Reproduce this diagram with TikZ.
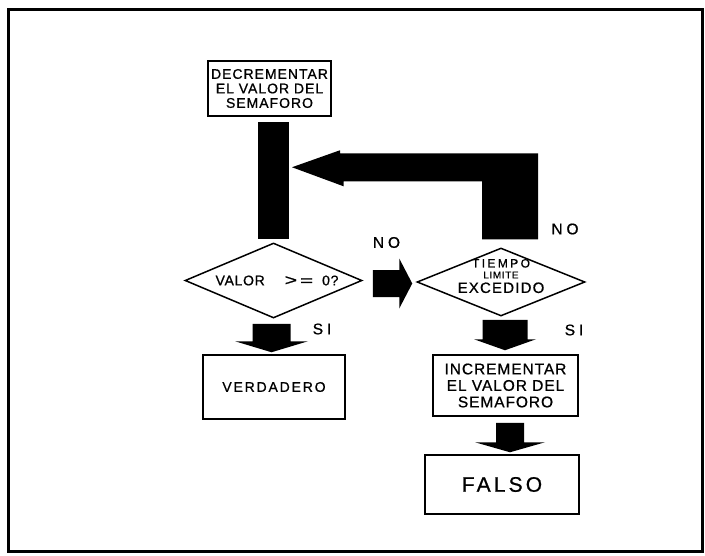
\documentclass[tikz,border=0pt]{standalone}
\usepackage{graphicx}
\usepackage{fontspec}
\setmainfont{Liberation Sans}[FakeBold=0.8]
\usetikzlibrary{shapes.geometric,calc}

% solid block arrow pointing down: #1 start of the shaft (its centre),
% #2 point whose y gives the tip, #3 half shaft width, #4 half head width, #5 head length
\newcommand{\flowdown}[5]{%
  \fill[blockfill] let \p1=#1, \p2=#2 in
    (\x1-#3,\y1) -- (\x1+#3,\y1) -- (\x1+#3,\y2+#5) -- (\x1+#4,\y2+#5)
    -- (\x1,\y2) -- (\x1-#4,\y2+#5) -- (\x1-#3,\y2+#5) -- cycle;}
% solid block arrow pointing right, same arguments
\newcommand{\flowright}[5]{%
  \fill[blockfill] let \p1=#1, \p2=#2 in
    (\x1,\y1+#3) -- (\x2-#5,\y1+#3) -- (\x2-#5,\y1+#4) -- (\x2,\y1)
    -- (\x2-#5,\y1-#4) -- (\x2-#5,\y1-#3) -- (\x1,\y1-#3) -- cycle;}

\tikzset{
  boxnode/.style={draw, line width=1.5pt, rectangle, inner sep=0pt, align=center},
  decision/.style={draw, line width=1.5pt, diamond, inner sep=-6pt, align=center},
  blockfill/.style={fill=black},
  lbl/.style={inner sep=0pt, font=\fontsize{15.5}{15.5}\selectfont\addfontfeature{LetterSpace=25}},
}

\begin{document}
\begin{tikzpicture}[x=1pt, y=-1pt]
  \useasboundingbox (0,0) rectangle (705,555);
  \draw[line width=3pt] (8,9) rectangle (702,551.5);

  % process steps and decisions
  \node[boxnode, minimum width=123pt, minimum height=55pt,
        font=\fontsize{14}{14.5}\selectfont\addfontfeature{LetterSpace=7}]
        (dec) at (269.5,88.5) {DECREMENTAR\\EL VALOR DEL\\SEMAFORO};

  \node[decision, minimum width=177pt, minimum height=75pt, aspect=2.36,
        font=\fontsize{14}{14}\selectfont\addfontfeature{LetterSpace=5}]
        (cond) at (273.5,280.5)
        {\hspace*{7pt}VALOR\hspace{20pt}\scalebox{1.5}[1.1]{>}\hspace{3pt}\scalebox{1.6}[1]{=}\hspace{9pt}0?};

  \node[decision, minimum width=168pt, minimum height=68pt, aspect=2.47,
        font=\fontsize{12}{10}\selectfont]
        (tmo) at (501,282)
        {{\fontsize{12}{11}\selectfont\addfontfeature{LetterSpace=20}TIEMPO}\\[1pt]
         {\fontsize{10}{9}\selectfont\addfontfeature{LetterSpace=6}LIMITE}\\[3pt]
         {\fontsize{15}{15}\selectfont\addfontfeature{LetterSpace=8}EXCEDIDO\rule[-12pt]{0pt}{0pt}}};

  \node[boxnode, minimum width=142pt, minimum height=64pt,
        font=\fontsize{14}{14}\selectfont\addfontfeature{LetterSpace=13}]
        (verd) at (274,387) {VERDADERO};

  \node[boxnode, minimum width=145pt, minimum height=61pt,
        font=\fontsize{15.5}{16.5}\selectfont\addfontfeature{LetterSpace=6}]
        (inc) at (505.5,385.5) {INCREMENTAR\\EL VALOR DEL\\SEMAFORO};

  \node[boxnode, minimum width=154pt, minimum height=59pt,
        font=\fontsize{21}{21}\selectfont\addfontfeature{LetterSpace=15}]
        (falso) at (502,484.5) {FALSO};

  % shaft joining the first decision to the decrement step
  \fill[blockfill] let \p1=(cond.north), \p2=(dec.south) in
    (\x1-16pt,\y1+3pt) rectangle (\x1+15pt,\y2-5pt);

  % loop back from the timeout test to the shaft
  \fill[blockfill] let \p1=(tmo.north), \p2=(cond.north) in
    (\x1-19pt,\y1+8pt) -- (\x1+37pt,\y1+8pt) -- (\x1+37pt,\y1+94pt)
    -- (\x2+66.5pt,\y1+94pt) -- (\x2+66.5pt,\y1+97pt) -- (\x2+18.5pt,\y1+80pt)
    -- (\x2+70pt,\y1+61pt) -- (\x2+70pt,\y1+66pt) -- (\x1-19pt,\y1+66pt) -- cycle;

  % remaining flow arrows
  \flowright{($(cond.east)+(10,3)$)}{($(tmo.west)+(-4,0)$)}{13.5pt}{25pt}{13pt}
  \flowdown{($(cond.south)+(-2,5)$)}{($(verd.north)+(0,-2)$)}{19pt}{36.5pt}{11pt}
  \flowdown{($(tmo.south)+(4,3)$)}{($(inc.north)+(0,-4)$)}{22.5pt}{31pt}{11pt}
  \flowdown{($(inc.south)+(4.5,6)$)}{($(falso.north)+(0,-2)$)}{14pt}{35pt}{10pt}

  % branch labels
  \node[lbl] (nomid) at (386.5,242.5) {NO};
  \node[lbl] (noloop) at (565,229) {NO};
  \node[lbl] (sicond) at (322,329) {SI};
  \node[lbl] (sitmo) at (574,330) {SI};
\end{tikzpicture}
\end{document}
